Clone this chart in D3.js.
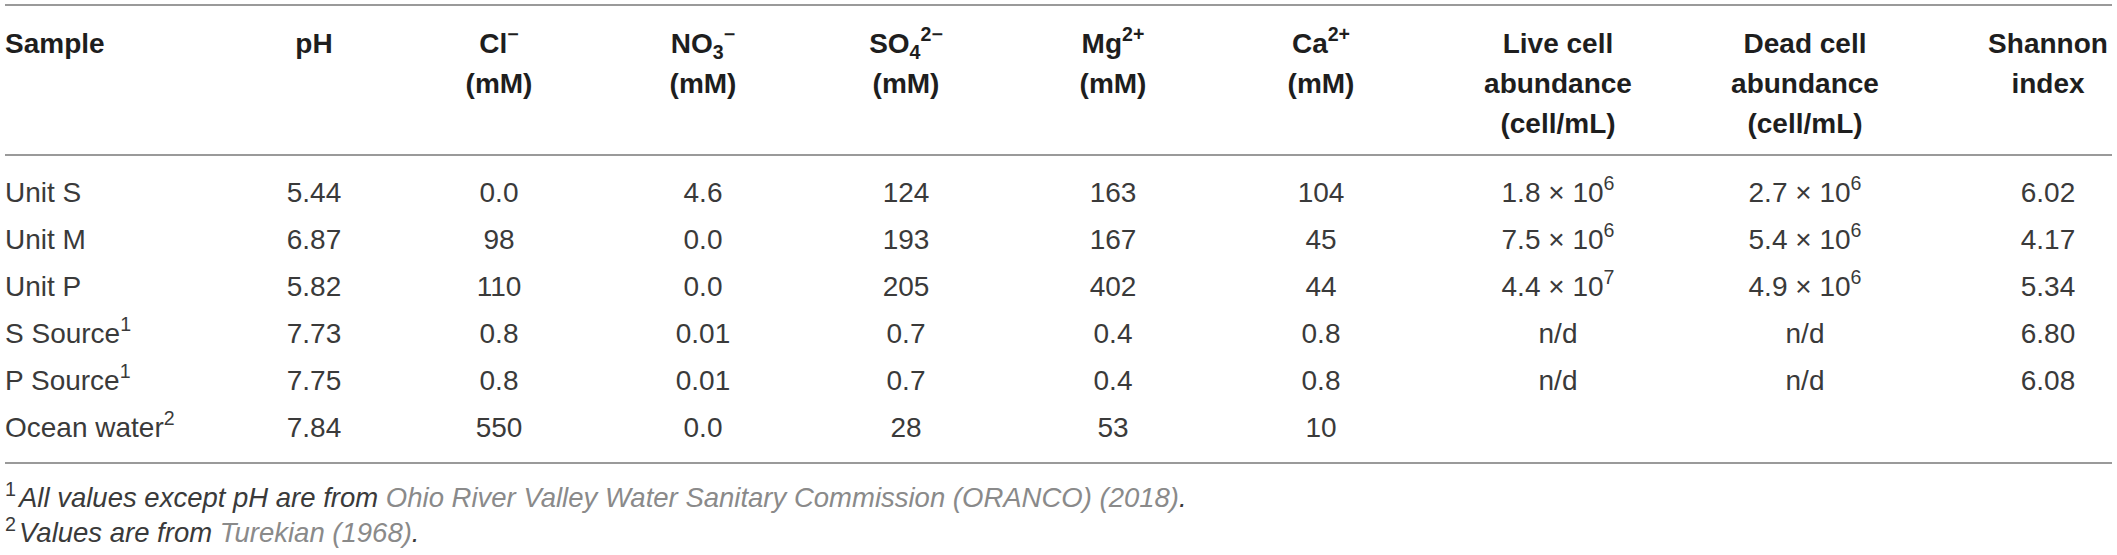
<!DOCTYPE html>
<html>
<head>
<meta charset="utf-8">
<script src="https://cdn.jsdelivr.net/npm/d3@7"></script>
<style>
  html, body { margin: 0; padding: 0; background: #fff; }
  svg text { font-family: "Liberation Sans", Arial, Helvetica, sans-serif; }
</style>
</head>
<body>
<svg id="chart" width="2117" height="555"></svg>
<script>
// ---------- data ----------
const samples     = ["Unit S", "Unit M", "Unit P", "S Source", "P Source", "Ocean water"];
const sampleNotes = ["", "", "", "1", "1", "2"];
const pH          = ["5.44", "6.87", "5.82", "7.73", "7.75", "7.84"];
const chloride    = ["0.0", "98", "110", "0.8", "0.8", "550"];
const nitrate     = ["4.6", "0.0", "0.0", "0.01", "0.01", "0.0"];
const sulfate     = ["124", "193", "205", "0.7", "0.7", "28"];
const magnesium   = ["163", "167", "402", "0.4", "0.4", "53"];
const calcium     = ["104", "45", "44", "0.8", "0.8", "10"];
const liveCells   = [1.8e6, 7.5e6, 4.4e7, "n/d", "n/d", ""];
const deadCells   = [2.7e6, 5.4e6, 4.9e6, "n/d", "n/d", ""];
const shannon     = ["6.02", "4.17", "5.34", "6.80", "6.08", ""];

const columnKeys = ["pH", "Cl", "NO3", "SO4", "Mg", "Ca", "Live", "Dead", "Shannon"];
// header lines: each segment [text, kind] with kind "n" normal, "sup", "sub"
const headerLines = [
  [[["pH","n"]]],
  [[["Cl","n"],["−","sup"]], [["(mM)","n"]]],
  [[["NO","n"],["3","sub"],["−","sup"]], [["(mM)","n"]]],
  [[["SO","n"],["4","sub"],["2−","sup"]], [["(mM)","n"]]],
  [[["Mg","n"],["2+","sup"]], [["(mM)","n"]]],
  [[["Ca","n"],["2+","sup"]], [["(mM)","n"]]],
  [[["Live cell","n"]], [["abundance","n"]], [["(cell/mL)","n"]]],
  [[["Dead cell","n"]], [["abundance","n"]], [["(cell/mL)","n"]]],
  [[["Shannon","n"]], [["index","n"]]]
];
const columnValues = [pH, chloride, nitrate, sulfate, magnesium, calcium, liveCells, deadCells, shannon];

const footnotes = [
  { mark: "1", plain: "All values except pH are from ", cite: "Ohio River Valley Water Sanitary Commission (ORANCO) (2018)", end: "." },
  { mark: "2", plain: "Values are from ", cite: "Turekian (1968)", end: "." }
];

// ---------- layout ----------
const fs = 28;
const svg = d3.select("#chart");

const xCol = d3.scaleOrdinal()
  .domain(columnKeys)
  .range([314, 499, 703, 906, 1113, 1321, 1558, 1805, 2048]);
const yRow = d3.scalePoint().domain(samples).range([192, 427]);
const yHead = d3.scaleLinear().domain([0, 2]).range([43, 123]);
const lineLeft = 5, lineRight = 2112;

// rules
[5, 155, 463].forEach(y => {
  svg.append("line").attr("x1", lineLeft).attr("x2", lineRight)
    .attr("y1", y).attr("y2", y)
    .attr("stroke", "#9a9a9a").attr("stroke-width", 2);
});

function addSegments(textSel, segs, size) {
  let shift = 0;
  segs.forEach(([t, kind]) => {
    let target = 0, fsz = size;
    if (kind === "sup") { target = -0.42 * size; fsz = 0.7 * size; }
    if (kind === "sub") { target = 0.22 * size; fsz = 0.7 * size; }
    textSel.append("tspan")
      .attr("dy", target - shift)
      .attr("font-size", fsz)
      .text(t);
    shift = target;
  });
}

const base = 0.36 * fs;

// header: Sample
svg.append("text")
  .attr("x", 5).attr("y", yHead(0) + base)
  .attr("font-size", fs).attr("font-weight", "bold").attr("fill", "#1e1e1e")
  .text("Sample");

columnKeys.forEach((k, i) => {
  headerLines[i].forEach((segs, li) => {
    const t = svg.append("text")
      .attr("x", xCol(k)).attr("y", yHead(li) + base)
      .attr("text-anchor", "middle")
      .attr("font-size", fs).attr("font-weight", "bold").attr("fill", "#1e1e1e");
    addSegments(t, segs, fs);
  });
});

// body: sample names
samples.forEach((s, r) => {
  const t = svg.append("text")
    .attr("x", 5).attr("y", yRow(s) + base)
    .attr("font-size", fs).attr("fill", "#3a3a3a");
  const segs = [[s, "n"]];
  if (sampleNotes[r]) segs.push([sampleNotes[r], "sup"]);
  addSegments(t, segs, fs);
});

function fmtCell(v) {
  if (typeof v === "number") {
    const e = Math.floor(Math.log10(v));
    const m = (v / Math.pow(10, e)).toFixed(1);
    return [[m + " × 10", "n"], [String(e), "sup"]];
  }
  return [[String(v), "n"]];
}

columnKeys.forEach((k, i) => {
  columnValues[i].forEach((v, r) => {
    if (v === "") return;
    const t = svg.append("text")
      .attr("x", xCol(k)).attr("y", yRow(samples[r]) + base)
      .attr("text-anchor", "middle")
      .attr("font-size", fs).attr("fill", "#3a3a3a");
    addSegments(t, fmtCell(v), fs);
  });
});

// footnotes
const fnY = d3.scalePoint().domain(footnotes.map(f => f.mark)).range([497, 532]);
const ffs = 27.5;
footnotes.forEach(f => {
  const t = svg.append("text")
    .attr("x", 5).attr("y", fnY(f.mark) + 0.36 * ffs)
    .attr("font-size", ffs).attr("fill", "#3a3a3a");
  t.append("tspan").attr("dy", -0.4 * ffs).attr("font-size", 0.72 * ffs).text(f.mark);
  t.append("tspan").attr("dy", 0.4 * ffs).attr("dx", 3).attr("font-style", "italic").text(f.plain);
  t.append("tspan").attr("font-style", "italic").attr("fill", "#8a8a8a").text(f.cite);
  t.append("tspan").attr("font-style", "italic").text(f.end);
});
</script>
</body>
</html>
